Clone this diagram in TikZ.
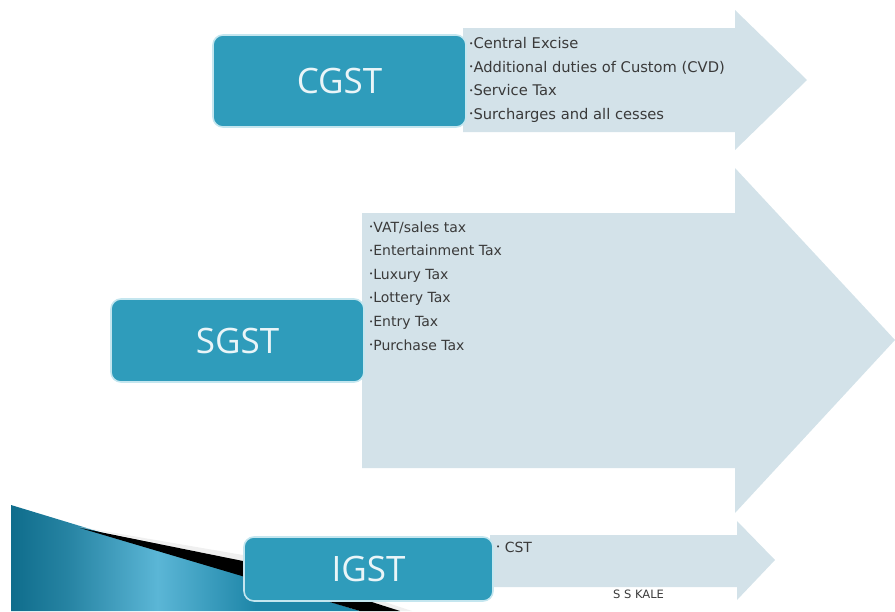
\documentclass[tikz,border=0pt]{standalone}
\usepackage{graphicx}
\usepackage{fontspec}
\setmainfont{Open Sans}
\newfontfamily\itemfont{DejaVu Sans}
\usetikzlibrary{positioning}

\definecolor{arrowfill}{HTML}{D3E2E9}
\definecolor{boxfill}{HTML}{2F9CBB}
\definecolor{boxedge}{HTML}{C4E6EF}
\definecolor{wedgedark}{HTML}{0F6D8C}
\definecolor{wedgelight}{HTML}{5BB6D6}
\definecolor{wedgeright}{HTML}{1E86A8}
\definecolor{itemgray}{HTML}{3A3A3A}

% the path box is mapped onto 25bp--75bp of the shading
\pgfdeclarehorizontalshading{wedgeshade}{100bp}{color(0bp)=(wedgedark);
  color(25bp)=(wedgedark); color(33bp)=(wedgedark!70!wedgelight);
  color(46bp)=(wedgelight); color(60bp)=(wedgeright); color(100bp)=(wedgeright)}

\newcommand{\itm}{\raisebox{0.3ex}{\scalebox{0.5}{\textbullet}}}

\begin{document}
\begin{tikzpicture}[x=1pt, y=-1pt,
    taxarrow/.style={fill=arrowfill},
    taxbox/.style={draw=boxedge, line width=1.6pt, fill=boxfill, rounded corners=10pt,
      text=white!90!boxfill, font=\fontsize{35}{40}\selectfont, inner sep=0pt},
    taxitem/.style={anchor=base west, text=itemgray, inner sep=0pt},
  ]
  \useasboundingbox (0,0) rectangle (895,611);

  % Decoration in the lower left corner, under the IGST row.
  \shade[shading=wedgeshade] (11,505) -- (360,611) -- (11,611) -- cycle;
  \fill[gray!12] (80,527) -- (243,555) -- (412,611) -- (400,611) -- (243,561) -- cycle;
  \fill[black] (80,528) -- (243,561) -- (400,611) -- (360,611) -- cycle;

  % Broad arrows behind the three boxes.
  \fill[taxarrow] (463,28) -- (735,28) -- (735,10) -- (807,80)
    -- (735,150) -- (735,132) -- (463,132) -- cycle;
  \fill[taxarrow] (362,213) -- (735,213) -- (735,168) -- (895,340)
    -- (735,513) -- (735,468) -- (362,468) -- cycle;
  \fill[taxarrow] (490,535) -- (737,535) -- (737,521) -- (775,560)
    -- (737,600) -- (737,587) -- (490,587) -- cycle;

  % CGST
  \node[taxbox, minimum width=253pt, minimum height=92pt] (cgst) at (339.5,81) {CGST};
  \foreach \txt [count=\i] in {Central Excise, Additional duties of Custom (CVD),
      Service Tax, Surcharges and all cesses}
    \node[taxitem, font=\itemfont\fontsize{14.7}{16}\selectfont]
      (cg-\i) at (469,{48.5+23.5*(\i-1)}) {\itm\txt};

  % SGST
  \node[taxbox, minimum width=253pt, minimum height=83pt] (sgst) at (237.5,340.5) {SGST};
  \foreach \txt [count=\i] in {VAT/sales tax, Entertainment Tax, Luxury Tax,
      Lottery Tax, Entry Tax, Purchase Tax}
    \node[taxitem, font=\itemfont\fontsize{14}{16}\selectfont]
      (sg-\i) at (369,{232+23.6*(\i-1)}) {\itm\txt};

  % IGST
  \node[taxbox, minimum width=249pt, minimum height=64pt] (igst) at (368.5,569) {IGST};
  \node[taxitem, font=\itemfont\fontsize{14}{16}\selectfont] (ig-1) at (496,552) {\itm\ CST};

  \node[taxitem, font=\itemfont\fontsize{11.5}{12}\selectfont] (author) at (613,598) {S S KALE};
\end{tikzpicture}
\end{document}
